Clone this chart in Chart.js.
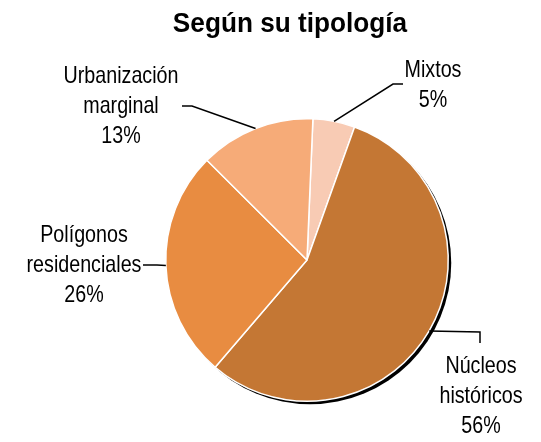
<!DOCTYPE html>
<html lang="es">
<head>
    <meta charset="UTF-8">
    <title>Según su tipología</title>
    <script src="https://cdn.jsdelivr.net/npm/chart.js"></script>
    <style>
        html, body { margin: 0; padding: 0; background: #fff; }
        #wrap { width: 541px; height: 442px; }
    </style>
</head>
<body>
    <div id="wrap"><canvas id="pieChart"></canvas></div>

    <script>
        const titulo = 'Según su tipología';
        const categorias = [['Mixtos'], ['Núcleos', 'históricos'], ['Polígonos', 'residenciales'], ['Urbanización', 'marginal']];
        const valores = [4.8, 55.8, 26.2, 13.2];
        const colores = ['#F8CBB4', '#C47734', '#E88C41', '#F6AB78'];

        // posicion del texto y codo de la linea guia de cada etiqueta
        const etiquetas = [
            { cx: 433, y: 77, path: [[393, 84], [403, 84]] },
            { cx: 481, y: 373, path: [[480, 332], [480, 343]] },
            { cx: 84, y: 242, path: [[157, 265], [143, 265]] },
            { cx: 121, y: 83, path: [[192, 106], [182, 106]] }
        ];

        // Arial Narrow si existe, si no se comprime Liberation Sans
        const probe = document.createElement('canvas').getContext('2d');
        probe.font = '24px "Liberation Sans Narrow", monospace';
        const wNarrow = probe.measureText('Urbanización').width;
        probe.font = '24px monospace';
        const hayNarrow = Math.abs(wNarrow - probe.measureText('Urbanización').width) > 1;
        const fuenteEtiqueta = hayNarrow ? '24px "Liberation Sans Narrow"' : '24px "Liberation Sans"';
        const escalaEtiqueta = hayNarrow ? 1 : 0.82;

        function texto(ctx, t, x, y, sx) {
            ctx.save();
            ctx.translate(x, y);
            ctx.scale(sx, 1);
            ctx.fillText(t, 0, 0);
            ctx.restore();
        }

        const sombra = {
            id: 'sombra',
            beforeDatasetsDraw(chart) {
                const arc = chart.getDatasetMeta(0).data[0];
                if (!arc) return;
                const ctx = chart.ctx;
                ctx.save();
                ctx.fillStyle = '#000';
                ctx.beginPath();
                ctx.arc(arc.x + 3, arc.y + 3, arc.outerRadius, 0, Math.PI * 2);
                ctx.fill();
                ctx.restore();
            }
        };

        const rotulos = {
            id: 'rotulos',
            afterDatasetsDraw(chart) {
                const ctx = chart.ctx;
                const total = valores.reduce((a, b) => a + b, 0);
                ctx.save();
                ctx.fillStyle = '#000';
                ctx.textAlign = 'center';
                ctx.textBaseline = 'alphabetic';

                ctx.font = 'bold 27px "Liberation Sans"';
                texto(ctx, titulo, 290, 32, 0.97);

                ctx.font = fuenteEtiqueta;
                chart.getDatasetMeta(0).data.forEach((arc, i) => {
                    const mid = (arc.startAngle + arc.endAngle) / 2;
                    const ex = arc.x + Math.cos(mid) * arc.outerRadius;
                    const ey = arc.y + Math.sin(mid) * arc.outerRadius;
                    const lay = etiquetas[i];
                    ctx.strokeStyle = '#000';
                    ctx.lineWidth = 1.5;
                    ctx.beginPath();
                    ctx.moveTo(ex, ey);
                    lay.path.forEach(p => ctx.lineTo(p[0], p[1]));
                    ctx.stroke();

                    const lineas = categorias[i].concat([Math.round(valores[i] / total * 100) + '%']);
                    lineas.forEach((l, k) => texto(ctx, l, lay.cx, lay.y + k * 30, escalaEtiqueta));
                });
                ctx.restore();
            }
        };

        new Chart(document.getElementById('pieChart'), {
            type: 'pie',
            data: {
                labels: categorias.map(c => c.join(' ')),
                datasets: [{
                    data: valores,
                    backgroundColor: colores,
                    borderColor: '#fff',
                    borderWidth: 1.5
                }]
            },
            options: {
                responsive: true,
                maintainAspectRatio: false,
                animation: false,
                rotation: 2.4,
                layout: { padding: { top: 118, bottom: 40, left: 165, right: 92 } },
                plugins: {
                    legend: { display: false },
                    title: { display: false },
                    tooltip: { enabled: false }
                }
            },
            plugins: [sombra, rotulos]
        });
    </script>
</body>
</html>
